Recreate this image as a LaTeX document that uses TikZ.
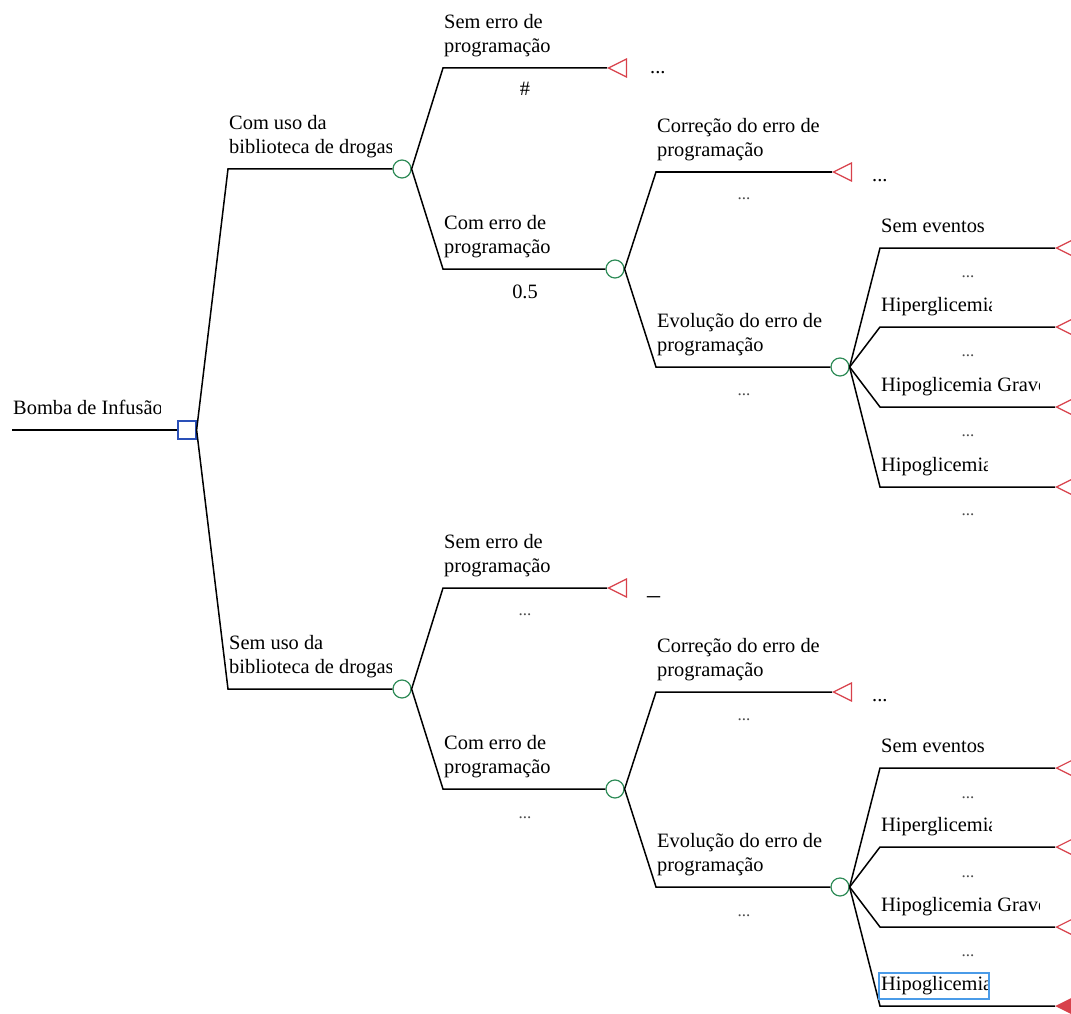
\documentclass[tikz,border=0pt]{standalone}
\usepackage{fontspec}
\setmainfont{Liberation Serif}
\usetikzlibrary{shapes.geometric}
\definecolor{chgreen}{HTML}{2E8B57}
\definecolor{decblue}{HTML}{2A50B8}
\definecolor{termred}{HTML}{D8414B}
\definecolor{selblue}{HTML}{4A9BE8}
\newcommand\clab[5]{%
  \begin{scope}\clip (#2-2,#3-70) rectangle (#4,#3);
  \node[lbl] (#1) at (#2+1,#3-10) {#5};\end{scope}}
\begin{document}
\begin{tikzpicture}[x=1pt,y=-1pt,
  br/.style={draw=black,line width=1.5pt},
  chance/.style={circle,draw=chgreen,line width=1.2pt,minimum size=18pt,inner sep=0pt},
  decnode/.style={rectangle,draw=decblue,line width=1.2pt,minimum size=18pt,inner sep=0pt},
  term/.style={isosceles triangle,isosceles triangle stretches,shape border rotate=180,
     draw=termred,line width=1.2pt,minimum width=18pt,minimum height=18pt,inner sep=0pt,anchor=apex},
  lbl/.style={font=\fontsize{20.4}{24}\selectfont,anchor=south west,inner sep=0pt,align=left,text depth=5pt},
  prob/.style={font=\fontsize{20.4}{24}\selectfont,anchor=base,inner sep=0pt},
  sdots/.style={font=\fontsize{17}{20}\selectfont,anchor=base,inner sep=0pt,text=black!70},
  after/.style={font=\fontsize{20.4}{24}\selectfont,anchor=base west,inner sep=0pt}]
\useasboundingbox (0,0) rectangle (1071,1014);

% ---- nodes
\coordinate (r0) at (12,430);
\node[decnode] (d0) at (187,430) {};
% top subtree
\coordinate (a1) at (228,169); \node[chance] (c1) at (402,169) {};
\coordinate (a2) at (443,68);  \node[term] (t1) at (607,68) {};
\coordinate (a3) at (443,269); \node[chance] (c2) at (615,269) {};
\coordinate (a4) at (656,172); \node[term] (t2) at (832,172) {};
\coordinate (a5) at (656,367); \node[chance] (c3) at (840,367) {};
\coordinate (a6) at (880,248); \node[term] (t3) at (1055,248) {};
\coordinate (a7) at (880,327); \node[term] (t4) at (1055,327) {};
\coordinate (a8) at (880,407); \node[term] (t5) at (1055,407) {};
\coordinate (a9) at (880,487); \node[term] (t6) at (1055,487) {};
% bottom subtree
\coordinate (b1) at (228,689); \node[chance] (c4) at (402,689) {};
\coordinate (b2) at (443,588); \node[term] (t7) at (607,588) {};
\coordinate (b3) at (443,789); \node[chance] (c5) at (615,789) {};
\coordinate (b4) at (656,692); \node[term] (t8) at (832,692) {};
\coordinate (b5) at (656,887); \node[chance] (c6) at (840,887) {};
\coordinate (b6) at (880,768); \node[term] (t9) at (1055,768) {};
\coordinate (b7) at (880,847); \node[term] (t10) at (1055,847) {};
\coordinate (b8) at (880,927); \node[term] (t11) at (1055,927) {};
\coordinate (b9) at (880,1006); \node[term,fill=termred,draw=termred] (t12) at (1055,1006) {};

% ---- connectors
\draw[br] (r0) -- (d0.west);
\draw[br] (d0.east) -- (a1) -- (c1.west);
\draw[br] (d0.east) -- (b1) -- (c4.west);
\draw[br] (c1.east) -- (a2) -- (t1.apex);
\draw[br] (c1.east) -- (a3) -- (c2.west);
\draw[br] (c2.east) -- (a4) -- (t2.apex);
\draw[br] (c2.east) -- (a5) -- (c3.west);
\draw[br] (c3.east) -- (a6) -- (t3.apex);
\draw[br] (c3.east) -- (a7) -- (t4.apex);
\draw[br] (c3.east) -- (a8) -- (t5.apex);
\draw[br] (c3.east) -- (a9) -- (t6.apex);
\draw[br] (c4.east) -- (b2) -- (t7.apex);
\draw[br] (c4.east) -- (b3) -- (c5.west);
\draw[br] (c5.east) -- (b4) -- (t8.apex);
\draw[br] (c5.east) -- (b5) -- (c6.west);
\draw[br] (c6.east) -- (b6) -- (t9.apex);
\draw[br] (c6.east) -- (b7) -- (t10.apex);
\draw[br] (c6.east) -- (b8) -- (t11.apex);
\draw[br] (c6.east) -- (b9) -- (t12.apex);

% ---- branch labels
\clab{l0}{12}{430}{160}{Bomba de Infusão}
\clab{l1}{228}{169}{391}{Com uso da\\biblioteca de drogas}
\clab{l2}{443}{68}{600}{Sem erro de\\programação}
\clab{l3}{443}{269}{600}{Com erro de\\programação}
\clab{l4}{656}{172}{822}{Correção do erro de\\programação}
\clab{l5}{656}{367}{822}{Evolução do erro de\\programação}
\clab{l6}{880}{248}{1050}{Sem eventos}
\clab{l7}{880}{327}{991}{Hiperglicemia}
\clab{l8}{880}{407}{1039}{Hipoglicemia Grave}
\clab{l9}{880}{487}{987}{Hipoglicemia}
\clab{m1}{228}{689}{391}{Sem uso da\\biblioteca de drogas}
\clab{m2}{443}{588}{600}{Sem erro de\\programação}
\clab{m3}{443}{789}{600}{Com erro de\\programação}
\clab{m4}{656}{692}{822}{Correção do erro de\\programação}
\clab{m5}{656}{887}{822}{Evolução do erro de\\programação}
\clab{m6}{880}{768}{1050}{Sem eventos}
\clab{m7}{880}{847}{991}{Hiperglicemia}
\clab{m8}{880}{927}{1039}{Hipoglicemia Grave}
\clab{m9}{880}{1006}{987}{Hipoglicemia}
\draw[selblue,line width=1.1pt] (879,973) rectangle (989,999);

% ---- values under branches
\node[prob] (p1) at (525,96) {\#};
\node[prob] (p2) at (525,298) {0.5};
\node[sdots] (p3) at (744,200) {...};
\node[sdots] (p4) at (744,395) {...};
\node[sdots] (p5) at (968,277) {...};
\node[sdots] (p6) at (968,356) {...};
\node[sdots] (p7) at (968,436) {...};
\node[sdots] (p8) at (968,515) {...};
\node[sdots] (q1) at (525,615) {...};
\node[sdots] (q2) at (525,818) {...};
\node[sdots] (q3) at (744,720) {...};
\node[sdots] (q4) at (744,916) {...};
\node[sdots] (q5) at (968,798) {...};
\node[sdots] (q6) at (968,877) {...};
\node[sdots] (q7) at (968,956) {...};

% ---- texts after terminal nodes
\node[after] (e1) at (650,74) {...};
\node[after] (e2) at (872,181) {...};
\node[after,font=\fontsize{26}{24}\selectfont] (e3) at (647,594) {\_};
\node[after] (e4) at (872,701) {...};
\end{tikzpicture}
\end{document}
